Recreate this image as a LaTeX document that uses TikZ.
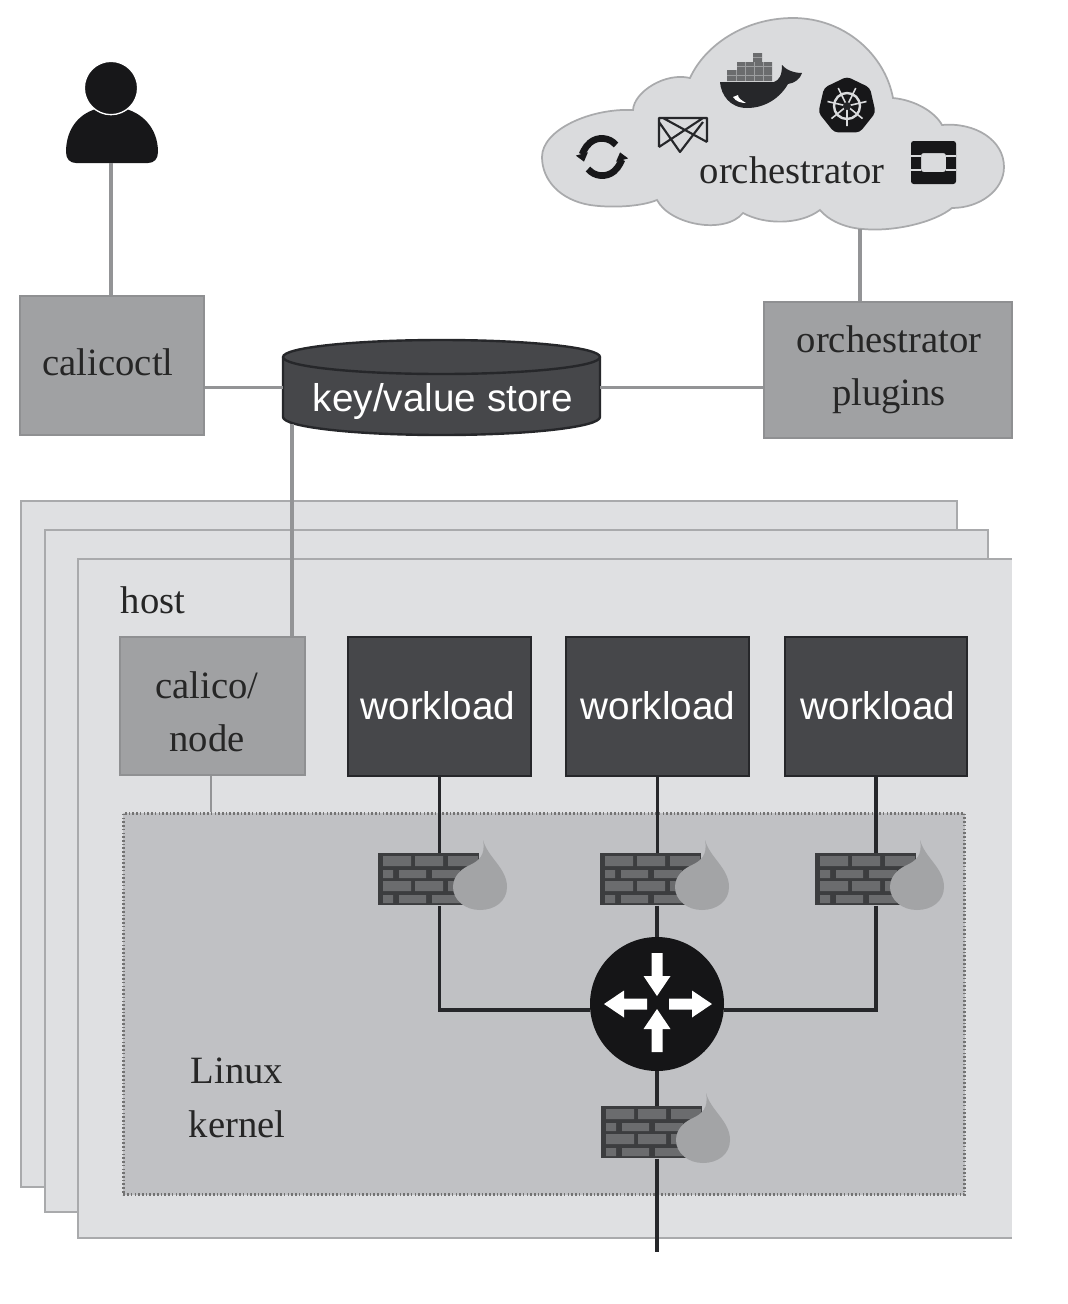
\documentclass[tikz,border=0pt]{standalone}
\usepackage{fontspec}
\setmainfont{Liberation Serif}
\setsansfont{Liberation Sans}
\usetikzlibrary{shapes.geometric,arrows.meta}

\definecolor{boxgrey}{HTML}{A0A1A3}
\definecolor{boxedge}{HTML}{8F9092}
\definecolor{darkbox}{HTML}{46474A}
\definecolor{darkedge}{HTML}{26272A}
\definecolor{sheetgrey}{HTML}{DFE0E2}
\definecolor{sheetedge}{HTML}{A9AAAC}
\definecolor{kernelgrey}{HTML}{C0C1C4}
\definecolor{cloudgrey}{HTML}{DADBDD}
\definecolor{brickgrey}{HTML}{6B6C6E}
\definecolor{flamegrey}{HTML}{A3A4A6}

\tikzset{
  seriftext/.style={font=\fontsize{29}{40}\selectfont,text=black!85,align=center},
  sanstext/.style={text=white,font=\sffamily\fontsize{29}{34}\selectfont},
  lightbox/.style={draw=boxedge,line width=1.5pt,fill=boxgrey,inner sep=0pt},
  workbox/.style={draw=darkedge,line width=1.5pt,fill=darkbox,inner sep=0pt,minimum width=137pt,minimum height=104pt},
  hostsheet/.style={draw=sheetedge,line width=1.2pt,fill=sheetgrey},
  greyline/.style={draw=boxgrey!92!black,line width=2.6pt},
  darkline/.style={draw=darkedge,line width=2.3pt},
  firewall/.pic={
    \begin{scope}[yscale=-1]
    \node (-box) [anchor=north west,fill=darkedge!90,inner sep=0pt,minimum width=75.75pt,minimum height=39pt] at (0,0) {};
    \fill[brickgrey] (5,3) rectangle (33,13) (37,3) rectangle (65,13) (70,3) rectangle (100,13)
      (5,17) rectangle (15,25) (21,17) rectangle (48,25) (54,17) rectangle (82,25)
      (5,28) rectangle (33,38) (37,28) rectangle (65,38) (70,28) rectangle (90,38)
      (5,42) rectangle (15,50) (21,42) rectangle (48,50) (54,42) rectangle (82,50);
    \fill[flamegrey] (105,-13) .. controls (110,5) and (129,15) .. (129,34) .. controls (129,48) and (117,57) .. (102,57) .. controls (87,57) and (75,47) .. (75,34) .. controls (75,22) and (85,15) .. (92,12) .. controls (100,8) and (108,3) .. (105,-13) -- cycle;
    \end{scope}
  },
  routerarrow/.pic={
    \fill[white] (0,-5.5) -- (23,-5.5) -- (23,-13.5) -- (43,0) -- (23,13.5) -- (23,5.5) -- (0,5.5) -- cycle;
  }
}

\begin{document}
\begin{tikzpicture}[x=0.75pt,y=0.75pt,yscale=-1,xscale=1]
\path[use as bounding box] (0,0) rectangle (1068,1304);

%Shape: Cloud
\draw[draw=sheetedge,line width=1.3pt,fill=cloudgrey] (542,157) .. controls (542,130) and (590,108) .. (633,110) .. controls (634,92) and (665,72) .. (690,78) .. controls (705,45) and (745,18) .. (793,18) .. controls (845,18) and (885,55) .. (893,98) .. controls (915,100) and (935,112) .. (942,125) .. controls (975,122) and (1004,140) .. (1004,167) .. controls (1004,190) and (980,208) .. (952,208) .. controls (935,222) and (895,232) .. (863,229) .. controls (845,228) and (828,220) .. (820,210) .. controls (800,225) and (765,225) .. (743,213) .. controls (725,235) and (670,225) .. (657,200) .. controls (640,207) and (610,208) .. (590,205) .. controls (560,200) and (542,180) .. (542,157) -- cycle ;
\node (orchestrator) [seriftext] at (792,170) {orchestrator};

%Shape: Whale
\fill[darkedge] (720,82) -- (774,82) .. controls (779,80) and (782,76) .. (782,65) .. controls (786,70) and (794,73) .. (802,73) .. controls (800,79) and (795,83) .. (788,84) .. controls (780,98) and (765,108) .. (747,108) .. controls (730,108) and (721,95) .. (720,82) -- cycle ;
\fill[white] (733,97) .. controls (736,102) and (742,103) .. (746,103) .. controls (741,100) and (738,98) .. (738,95) -- cycle ;
\fill[brickgrey] (727,70) rectangle (772,81) (737,62) rectangle (772,70) (753,53) rectangle (762,62);
\draw[brickgrey!55!cloudgrey,line width=0.3pt] (736,70) -- (736,81) (745,62) -- (745,81) (754,62) -- (754,81) (763,62) -- (763,81) (727,75) -- (772,75) (737,66) -- (772,66) (753,57) -- (762,57);

%Shape: Wheel polygon
\node (kube) [regular polygon,regular polygon sides=7,rounded corners=3pt,fill=darkedge!60!black,minimum size=44pt,inner sep=0pt] at (847,106) {};
\draw[cloudgrey,line width=1.8pt] (kube.center) circle (13);
\draw[cloudgrey,line width=1.2pt] (kube.center) -- ++(90:20) (kube.center) -- ++(141:20) (kube.center) -- ++(193:20) (kube.center) -- ++(244:20) (kube.center) -- ++(296:20) (kube.center) -- ++(347:20) (kube.center) -- ++(39:20);
\fill[darkedge] (kube.center) circle (4);

%Shape: Circular arrows
\draw[darkedge!60!black,line width=5pt,-{Triangle[length=6pt,width=9pt]}] (616,145) arc (-40:-195:18.5);
\draw[darkedge!60!black,line width=5pt,-{Triangle[length=6pt,width=9pt]}] (588,169) arc (140:-15:18.5);

%Shape: Crossed frame
\draw[darkedge,line width=1.6pt,line join=round] (659,147) -- (659,118) -- (707,118) -- (707,142) (659,122) -- (680,152) -- (703,122) (659,147) -- (703,118) (707,142) -- (663,118);

%Shape: Hollow square
\fill[darkedge!60!black,rounded corners=2pt,even odd rule] (911,141) rectangle (956,184) (921,153) rectangle (946,172);
\draw[cloudgrey,line width=1pt] (911,156) -- (921,156) (946,156) -- (956,156) (911,170) -- (921,170) (946,170) -- (956,170);

%Shape: User
\fill[darkedge!60!black] (66,152) .. controls (66,128) and (80,112) .. (100,108) .. controls (105,114) and (117,114) .. (122,108) .. controls (142,112) and (158,128) .. (158,152) .. controls (158,159) and (154,163) .. (148,163) -- (76,163) .. controls (70,163) and (66,159) .. (66,152) -- cycle ;
\node (user) [circle,draw=white,line width=1pt,fill=darkedge!60!black,minimum size=40pt,inner sep=0pt] at (111,88) {};
\coordinate (userfoot) at (111,163);
\coordinate (cloudfoot) at (860,229);

%Hosts
\draw[hostsheet] (21,1187) -- (21,501) -- (957,501) -- (957,1187) -- cycle ;
\draw[hostsheet] (45,1212) -- (45,530) -- (988,530) -- (988,1212) -- cycle ;
\fill[sheetgrey] (78,559) rectangle (1012,1238);
\draw[draw=sheetedge,line width=1.4pt] (1012,559) -- (78,559) -- (78,1238) -- (1012,1238);

%Top row
\node (calicoctl) [lightbox,minimum width=138pt,minimum height=104pt] at (111.5,365.5) {};
\node (plugins) [lightbox,minimum width=186pt,minimum height=102pt] at (887.5,369.5) {};
%Shape: Can
\draw[draw=darkedge,line width=1.8pt,fill=darkbox] (283,357) -- (283,417) arc (180:0:158.5 and 18) -- (600,357) arc (0:-180:158.5 and 17) -- cycle ;
\draw[draw=darkedge,line width=1.8pt] (283,357) arc (180:0:158.5 and 17) ;
\node (store) [inner sep=0pt,minimum width=238pt,minimum height=71pt] at (441.5,387.5) {};
\node (calicoctllabel) [seriftext] at (108,362) {calicoctl};
\node (pluginslabel) [seriftext] at (889,370) {orchestrator\\plugins};
\node (storelabel) [sanstext] at (443,401) {key/value store};

%Inside the host
\node (hostlabel) [seriftext] at (153,600) {host};
\node (calinode) [lightbox,minimum width=139pt,minimum height=104pt] at (212.5,706) {};
\node (calinodelabel) [seriftext] at (207,712) {calico/\\node};
\node (worka) [workbox] at (439.5,706.5) {};
\node (workb) [workbox] at (657.5,706.5) {};
\node (workc) [workbox] at (876,706.5) {};
\node (workalabel) [sanstext] at (438,706) {workload};
\node (workblabel) [sanstext] at (658,706) {workload};
\node (workclabel) [sanstext] at (878,706) {workload};
\node (kernel) [draw=black!55,fill=kernelgrey,line width=2pt,dash pattern={on 1.2pt off 1.6pt},inner sep=0pt,minimum width=631pt,minimum height=286pt] at (544,1004) {};
\node (kernellabel) [seriftext] at (237,1098) {Linux\\kernel};
\coordinate (storefoot) at (292,424);
\coordinate (nodetop) at (292,636);
\coordinate (nodefoot) at (211,776);
\coordinate (hub) at (657,1010);
\coordinate (tail) at (657,1252);

%Firewalls and router
\pic (fwa) at (378,853) {firewall};
\pic (fwb) at (600,853) {firewall};
\pic (fwc) at (815,853) {firewall};
\pic (fwd) at (601,1106) {firewall};
\node (router) [circle,fill=darkedge!55!black,minimum size=100.5pt,inner sep=0pt] at (657,1004) {};
\pic[rotate=-90] at (657,953) {routerarrow};
\pic[rotate=90] at (657,1052) {routerarrow};
\pic[rotate=180] at (647,1004) {routerarrow};
\pic at (669,1004) {routerarrow};

%Straight Lines
\draw[greyline] (userfoot) -- (userfoot |- calicoctl.north);
\draw[greyline] (cloudfoot) -- (cloudfoot |- plugins.north);
\draw[greyline] (calicoctl.east |- store.center) -- (store.west);
\draw[greyline] (store.east) -- (store.center -| plugins.west);
\draw[greyline] (storefoot) -- (nodetop);
\draw[greyline,line width=1.6pt] (nodefoot) -- (nodefoot |- kernel.north);
\draw[darkline] (worka.south) -- (worka.south |- fwa-box.north);
\draw[darkline] (workb.south) -- (workb.south |- fwb-box.north);
\draw[darkline] (workc.south) -- (workc.south |- fwc-box.north);
\draw[darkline] (worka.south |- fwa-box.south) -- (worka.south |- hub) -- (hub -| router.west);
\draw[darkline] (workc.south |- fwc-box.south) -- (workc.south |- hub) -- (hub -| router.east);
\draw[darkline] (router.north |- fwb-box.south) -- (router.north);
\draw[darkline] (router.south) -- (router.south |- fwd-box.north);
\draw[darkline] (router.south |- fwd-box.south) -- (tail);

\end{tikzpicture}
\end{document}
